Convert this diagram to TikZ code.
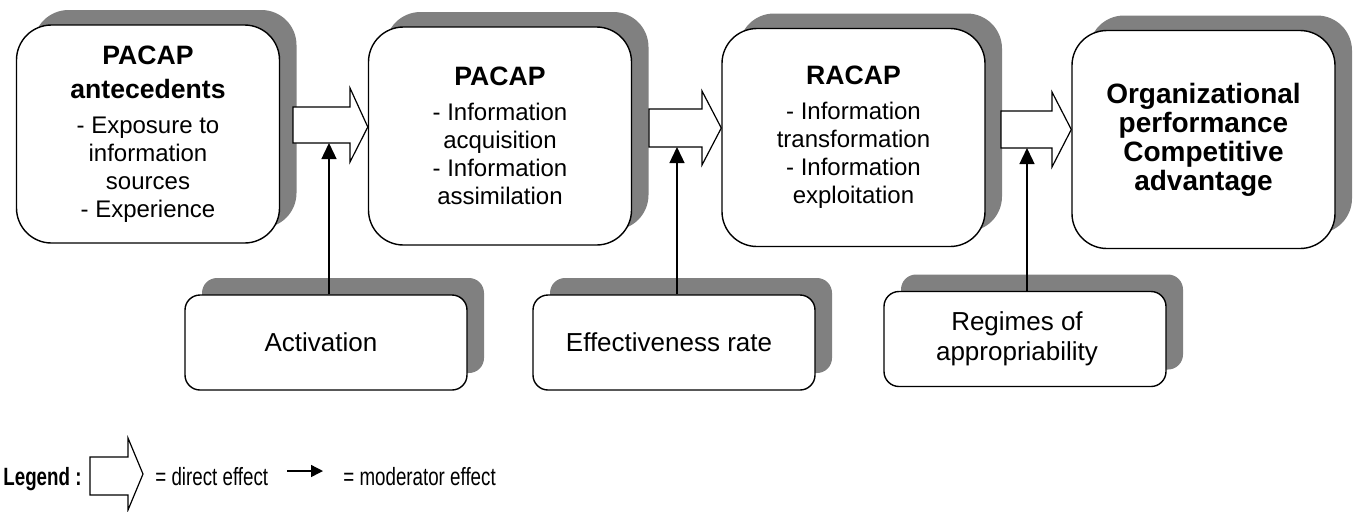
\documentclass[tikz,border=0pt]{standalone}
\usepackage{fontspec}
\usepackage{graphicx}
\setmainfont{Liberation Sans}
\usetikzlibrary{shadows,arrows.meta,calc}
\definecolor{shadowgray}{HTML}{808080}
\tikzset{
  mainbox/.style={draw, line width=0.7pt, fill=white, rounded corners=17.5pt,
    minimum width=131.5pt, minimum height=109pt, inner sep=2pt, align=center,
    font=\fontsize{12}{14}\selectfont,
    drop shadow={shadow xshift=8.5pt, shadow yshift=7.5pt, fill=shadowgray, opacity=1}},
  modbox/.style={draw, line width=0.7pt, fill=white, rounded corners=7.5pt,
    minimum width=141pt, minimum height=47.5pt, inner sep=2pt, align=center,
    font=\fontsize{13}{15}\selectfont,
    drop shadow={shadow xshift=8.5pt, shadow yshift=8.5pt, fill=shadowgray, opacity=1}},
  fat/.style={draw, fill=white, line width=0.6pt, line join=miter},
  moder/.style={line width=0.7pt, -{Triangle[length=8pt,width=7.5pt]}},
  modleg/.style={line width=0.7pt, -{Triangle[length=6pt,width=6pt]}},
  legtext/.style={inner sep=0pt, anchor=base west, font=\fontsize{12.5}{15}\selectfont},
}
\newcommand\ttl[1]{{\bfseries\fontsize{13.3}{14}\selectfont #1}}
\newcommand\narrowtxt[1]{\scalebox{0.75}[1]{#1}}
\newcommand\lefttxt[2]{\mbox{#2\kern#1}}
\begin{document}
\begin{tikzpicture}[x=0.5pt, y=-0.5pt]
\useasboundingbox (0,0) rectangle (1357,511);

% main boxes
\node[mainbox] (b1) at (148,134) {\ttl{PACAP}\\[3.4pt]\ttl{antecedents}\\[3.4pt]- Exposure to\\information\\sources\\- Experience};
\node[mainbox] (b2) at (500,136) {\ttl{PACAP}\\[3.4pt]- Information\\acquisition\\- Information\\assimilation};
\node[mainbox] (b3) at (853.5,137.5) {\ttl{RACAP}\\[3.4pt]- Information\\transformation\\- Information\\exploitation};
\node[mainbox, font=\bfseries\fontsize{14}{14.5}\selectfont] (b4) at (1203.5,139.5) {Organizational\\performance\\Competitive\\advantage};

% moderator boxes
\node[modbox] (act) at (326,342.5) {\lefttxt{5pt}{Activation}};
\node[modbox] (eff) at (674,342.5) {\lefttxt{5pt}{Effectiveness rate}};
\node[modbox] (reg) at (1025,339) {\lefttxt{8pt}{Regimes of}\\\lefttxt{8pt}{appropriability}};

% direct-effect arrows
\draw[fat] (293,107) -- (350,107) -- (350,88) -- (b2.west |- 0,127) -- (350,162) -- (350,143) -- (293,143) -- cycle;
\draw[fat] (649,109) -- (702,109) -- (702,91) -- (b3.west |- 0,128) -- (702,165) -- (702,147) -- (649,147) -- cycle;
\draw[fat] (1001,111) -- (1052,111) -- (1052,92) -- (b4.west |- 0,129.5) -- (1052,167) -- (1052,148) -- (1001,148) -- cycle;

% moderator arrows
\coordinate (m1) at (329,143);
\coordinate (m2) at (677,147);
\coordinate (m3) at (1027,148);
\draw[moder] (m1 |- act.north) -- (m1);
\draw[moder] (m2 |- eff.north) -- (m2);
\draw[moder] (m3 |- reg.north) -- (m3);

% legend
\node[legtext] (lg) at (3,485) {\narrowtxt{\bfseries Legend :}};
\draw[fat] (90,457) -- (128,457) -- (128,438) -- (143,474) -- (128,510) -- (128,495) -- (90,495) -- cycle;
\node[legtext] (lgd) at (155,485) {\narrowtxt{= direct effect}};
\coordinate (lma) at (287,471);
\coordinate (lmb) at (323,471);
\draw[modleg] (lma) -- (lmb);
\node[legtext] (lgm) at (343,485) {\narrowtxt{= moderator effect}};
\end{tikzpicture}
\end{document}
